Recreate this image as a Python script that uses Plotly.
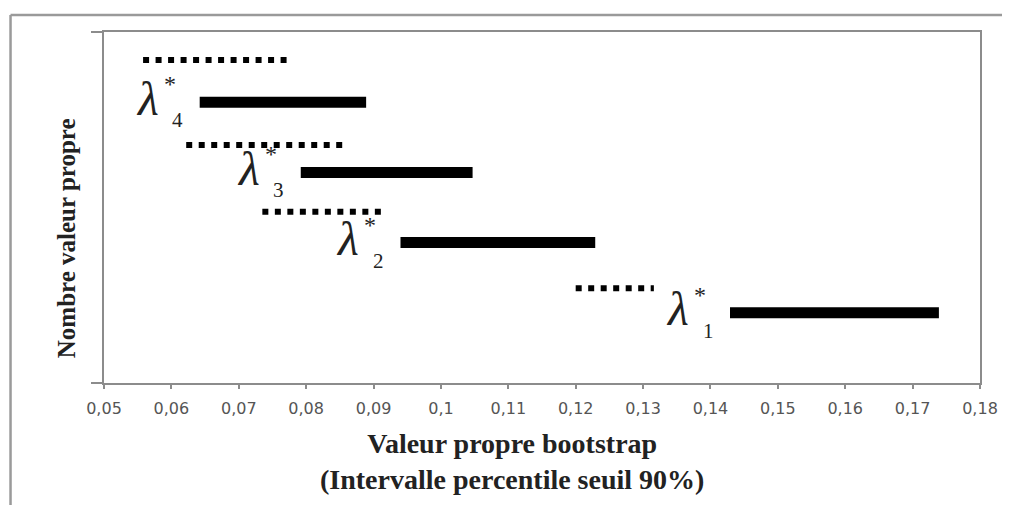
import plotly.graph_objects as go

# ---------------- data ----------------
eigen_index = [1, 2, 3, 4]
solid_lo = [0.1429, 0.0940, 0.0792, 0.0642]
solid_hi = [0.1739, 0.1229, 0.1047, 0.0889]
solid_level = [1, 2, 3, 4]
dotted_lo = [0.1200, 0.0735, 0.0622, 0.0558]
dotted_hi = [0.1316, 0.0912, 0.0860, 0.0777]
dotted_level = [1.35, 2.44, 3.39, 4.60]
tick_values = [0.05, 0.06, 0.07, 0.08, 0.09, 0.10, 0.11, 0.12, 0.13,
               0.14, 0.15, 0.16, 0.17, 0.18]
tick_labels = ["0,05", "0,06", "0,07", "0,08", "0,09", "0,1", "0,11", "0,12",
               "0,13", "0,14", "0,15", "0,16", "0,17", "0,18"]
x_title_lines = ["Valeur propre bootstrap", "(Intervalle percentile seuil 90%)"]
y_title = "Nombre valeur propre"

# ---------------- layout geometry (page pixels) ----------------
OFF = 8                      # default body margin of the page
W, H = 1010 - OFF, 505 - OFF
L, R, T, B = 104, 985, 32, 383


def px(x):
    return (x - L) / (R - L)


def py(y):
    return (B - y) / (B - T)


SERIF = "Liberation Serif, Times New Roman, serif"

fig = go.Figure()

for i in range(len(eigen_index)):
    fig.add_trace(go.Scatter(
        x=[dotted_lo[i], dotted_hi[i]], y=[dotted_level[i], dotted_level[i]],
        mode="lines", line=dict(color="black", width=6, dash="6px,6.5px"),
        hoverinfo="skip", showlegend=False))
    fig.add_trace(go.Scatter(
        x=[solid_lo[i], solid_hi[i]], y=[solid_level[i], solid_level[i]],
        mode="lines", line=dict(color="black", width=11),
        hoverinfo="skip", showlegend=False))

annotations = []
for i, k in enumerate(eigen_index):
    xa, ya = solid_lo[i], solid_level[i]
    annotations.append(dict(
        x=xa, y=ya, xref="x", yref="y", text="<i>λ</i>", showarrow=False,
        xanchor="right", yanchor="middle", xshift=-39, yshift=4,
        font=dict(family=SERIF, size=48, color="#222")))
    annotations.append(dict(
        x=xa, y=ya, xref="x", yref="y", text="*", showarrow=False,
        xanchor="center", yanchor="middle", xshift=-30, yshift=18,
        font=dict(family=SERIF, size=24, color="#222")))
    annotations.append(dict(
        x=xa, y=ya, xref="x", yref="y", text=str(k), showarrow=False,
        xanchor="center", yanchor="middle", xshift=-22, yshift=-18,
        font=dict(family=SERIF, size=21, color="#222")))

annotations.append(dict(
    x=px(66), y=py(238), xref="paper", yref="paper", text="<b>" + y_title + "</b>",
    textangle=-90, showarrow=False, xanchor="center", yanchor="middle",
    font=dict(family=SERIF, size=25, color="#222")))
annotations.append(dict(
    x=px(514), y=py(461), xref="paper", yref="paper",
    text="<br>".join("<b>" + s + "</b>" for s in x_title_lines),
    showarrow=False, xanchor="center", yanchor="middle",
    font=dict(family=SERIF, size=28, color="#222")))

shapes = [
    dict(type="line", xref="paper", yref="paper", x0=px(10), x1=px(1015),
         y0=py(15), y1=py(15), line=dict(color="#9a9a9a", width=2.5)),
    dict(type="line", xref="paper", yref="paper", x0=px(10), x1=px(10),
         y0=py(15), y1=py(510), line=dict(color="#9a9a9a", width=2.5)),
]

fig.update_layout(
    width=W, height=H,
    margin=dict(l=L - OFF, r=1010 - R, t=T - OFF, b=505 - B, pad=0),
    paper_bgcolor="white", plot_bgcolor="white",
    showlegend=False, hovermode=False,
    annotations=annotations, shapes=shapes,
    xaxis=dict(range=[0.05, 0.18], tickvals=tick_values, ticktext=tick_labels,
               showgrid=False, zeroline=False, showline=True, mirror=True,
               linecolor="#8c8c8c", linewidth=2, ticks="outside", ticklen=4,
               tickcolor="#8c8c8c", tickwidth=1.5, ticklabelstandoff=6,
               tickfont=dict(family="DejaVu Sans", size=16, color="#555")),
    yaxis=dict(range=[0, 5], tickvals=[0, 5], showticklabels=False,
               showgrid=False, zeroline=False, showline=True, mirror=True,
               linecolor="#8c8c8c", linewidth=2, ticks="outside", ticklen=11,
               tickcolor="#8c8c8c", tickwidth=2),
)

fig.write_html("out.html")
